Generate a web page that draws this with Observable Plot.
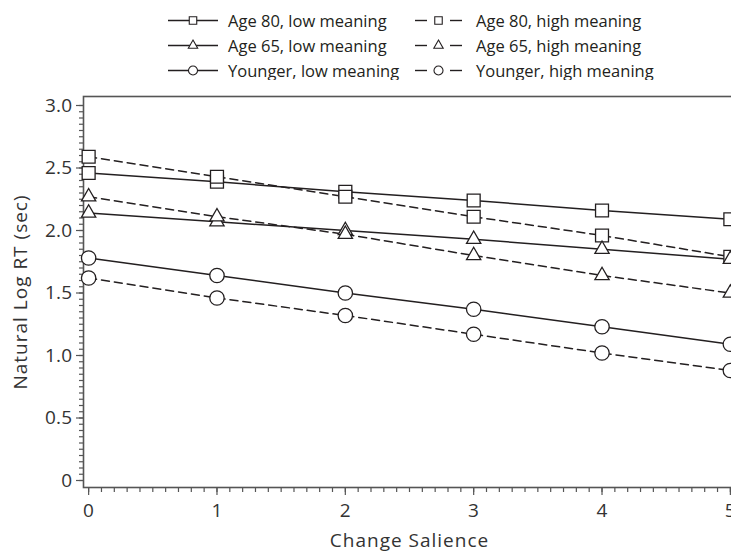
<!DOCTYPE html>
<html><head><meta charset="utf-8">
<script src="https://cdn.jsdelivr.net/npm/d3@7"></script>
<script src="https://cdn.jsdelivr.net/npm/@observablehq/plot@0.6"></script>
<style>
html,body{margin:0;padding:0;background:#fff;width:731px;height:552px;overflow:hidden;position:relative;}
#legend{position:absolute;top:0;left:0;width:731px;height:80px;font-family:"Open Sans",sans-serif;font-size:16.5px;color:#231f20;}
.item{position:absolute;height:25px;display:flex;align-items:center;white-space:nowrap;}
.item svg{display:block;}
#chart{position:absolute;top:80px;left:0;width:740px;}
#chart svg{max-width:none !important;}
</style></head><body>
<div id="legend"></div><div id="chart"></div>
<script>
// ---- data ----
const salience = [0, 1, 2, 3, 4, 5];
const age80Low   = [2.46, 2.39, 2.31, 2.24, 2.16, 2.09];
const age80High  = [2.59, 2.43, 2.27, 2.11, 1.96, 1.79];
const age65Low   = [2.14, 2.07, 2.00, 1.93, 1.85, 1.77];
const age65High  = [2.27, 2.11, 1.97, 1.80, 1.64, 1.50];
const youngerLow = [1.78, 1.64, 1.50, 1.37, 1.23, 1.09];
const youngerHigh= [1.62, 1.46, 1.32, 1.17, 1.02, 0.88];
const seriesNames = [
  "Age 80, low meaning", "Age 80, high meaning",
  "Age 65, low meaning", "Age 65, high meaning",
  "Younger, low meaning", "Younger, high meaning"
];
const seriesValues = [age80Low, age80High, age65Low, age65High, youngerLow, youngerHigh];
const seriesSymbol = ["square", "square", "triangle", "triangle", "circle", "circle"];
const seriesDashed = [false, true, false, true, false, true];
const yTicks = [0, 0.5, 1.0, 1.5, 2.0, 2.5, 3.0];
const xTicks = [0, 1, 2, 3, 4, 5];
const yLabel = "Natural Log RT (sec)";
const xLabel = "Change Salience";

const ink = "#231f20";
const axisInk = "#555";

// tidy table
const table = [];
seriesNames.forEach((name, i) => {
  salience.forEach((s, j) => table.push({
    series: name, x: s, y: seriesValues[i][j],
    symbol: seriesSymbol[i], dashed: seriesDashed[i]
  }));
});

const yMinor = d3.range(0, 60.5, 1).map(k => k * 0.05);
const xMinor = d3.range(0, 50.5, 1).map(k => k * 0.1);
const rBySymbol = {square: 7.3, triangle: 5.3, circle: 7.2};

const chart = Plot.plot({
  width: 740, height: 472,
  marginLeft: 83, marginRight: 5, marginTop: 16, marginBottom: 65,
  x: {domain: [-0.04, 5.04]},
  y: {domain: [-0.056, 3.072]},
  style: {fontFamily: "'Open Sans', sans-serif", fontSize: "19px", color: "#333", background: "white", maxWidth: "none"},
  marks: [
    Plot.frame({stroke: axisInk, strokeWidth: 1.6}),
    Plot.axisY(yMinor, {tickSize: 4, text: null, label: null, stroke: axisInk, strokeWidth: 1.2}),
    Plot.axisY(yTicks, {tickSize: 7, tickPadding: 4, stroke: axisInk, strokeWidth: 1.2, fontSize: 19,
      tickFormat: d => d === 0 ? "0" : d.toFixed(1),
      label: yLabel, labelAnchor: "center", labelOffset: 70, labelArrow: "none"}),
    Plot.axisX(xMinor, {tickSize: 5, text: null, label: null, stroke: axisInk, strokeWidth: 1.2}),
    Plot.axisX(xTicks, {tickSize: 8, tickPadding: 8, stroke: axisInk, strokeWidth: 1.2, fontSize: 19,
      tickFormat: d => String(d),
      label: xLabel, labelAnchor: "center", labelOffset: 59, labelArrow: "none"}),
    Plot.line(table.filter(d => !d.dashed), {x: "x", y: "y", z: "series", stroke: ink, strokeWidth: 1.5}),
    Plot.line(table.filter(d => d.dashed), {x: "x", y: "y", z: "series", stroke: ink, strokeWidth: 1.5, strokeDasharray: "8,5"}),
    ...["square", "triangle", "circle"].map(sym =>
      Plot.dot(table.filter(d => d.symbol === sym), {x: "x", y: "y", symbol: sym, r: rBySymbol[sym],
        fill: "white", stroke: ink, strokeWidth: 1.3}))
  ]
});
d3.select(chart).selectAll("text").style("letter-spacing", "0.3px");
d3.select(chart).selectAll('[aria-label$="axis label"] text').style("letter-spacing", "1px");
document.getElementById("chart").appendChild(chart);

// ---- legend ----
const legendSize = {square: 56, triangle: 38, circle: 64};
const symType = {square: d3.symbolSquare, triangle: d3.symbolTriangle, circle: d3.symbolCircle};
const legend = d3.select("#legend");
seriesNames.forEach((name, i) => {
  const row = Math.floor(i / 2), col = i % 2;
  const item = legend.append("div").attr("class", "item")
    .style("left", (col ? 415 : 168) + "px").style("top", (7.5 + row * 25) + "px");
  const w = col ? 47 : 50;
  const svg = item.append("svg").attr("width", w).attr("height", 25);
  if (seriesDashed[i]) {
    svg.append("line").attr("x1", 0).attr("x2", 12).attr("y1", 12.5).attr("y2", 12.5).attr("stroke", ink).attr("stroke-width", 1.4);
    svg.append("line").attr("x1", w - 12).attr("x2", w).attr("y1", 12.5).attr("y2", 12.5).attr("stroke", ink).attr("stroke-width", 1.4);
  } else {
    svg.append("line").attr("x1", 0).attr("x2", w).attr("y1", 12.5).attr("y2", 12.5).attr("stroke", ink).attr("stroke-width", 1.4);
  }
  svg.append("path").attr("transform", `translate(${w / 2},12.5)`)
    .attr("d", d3.symbol(symType[seriesSymbol[i]], legendSize[seriesSymbol[i]])())
    .attr("fill", "white").attr("stroke", ink).attr("stroke-width", 1.1);
  item.append("span").style("margin-left", (col ? 14 : 10) + "px").text(name);
});
</script>
</body></html>
